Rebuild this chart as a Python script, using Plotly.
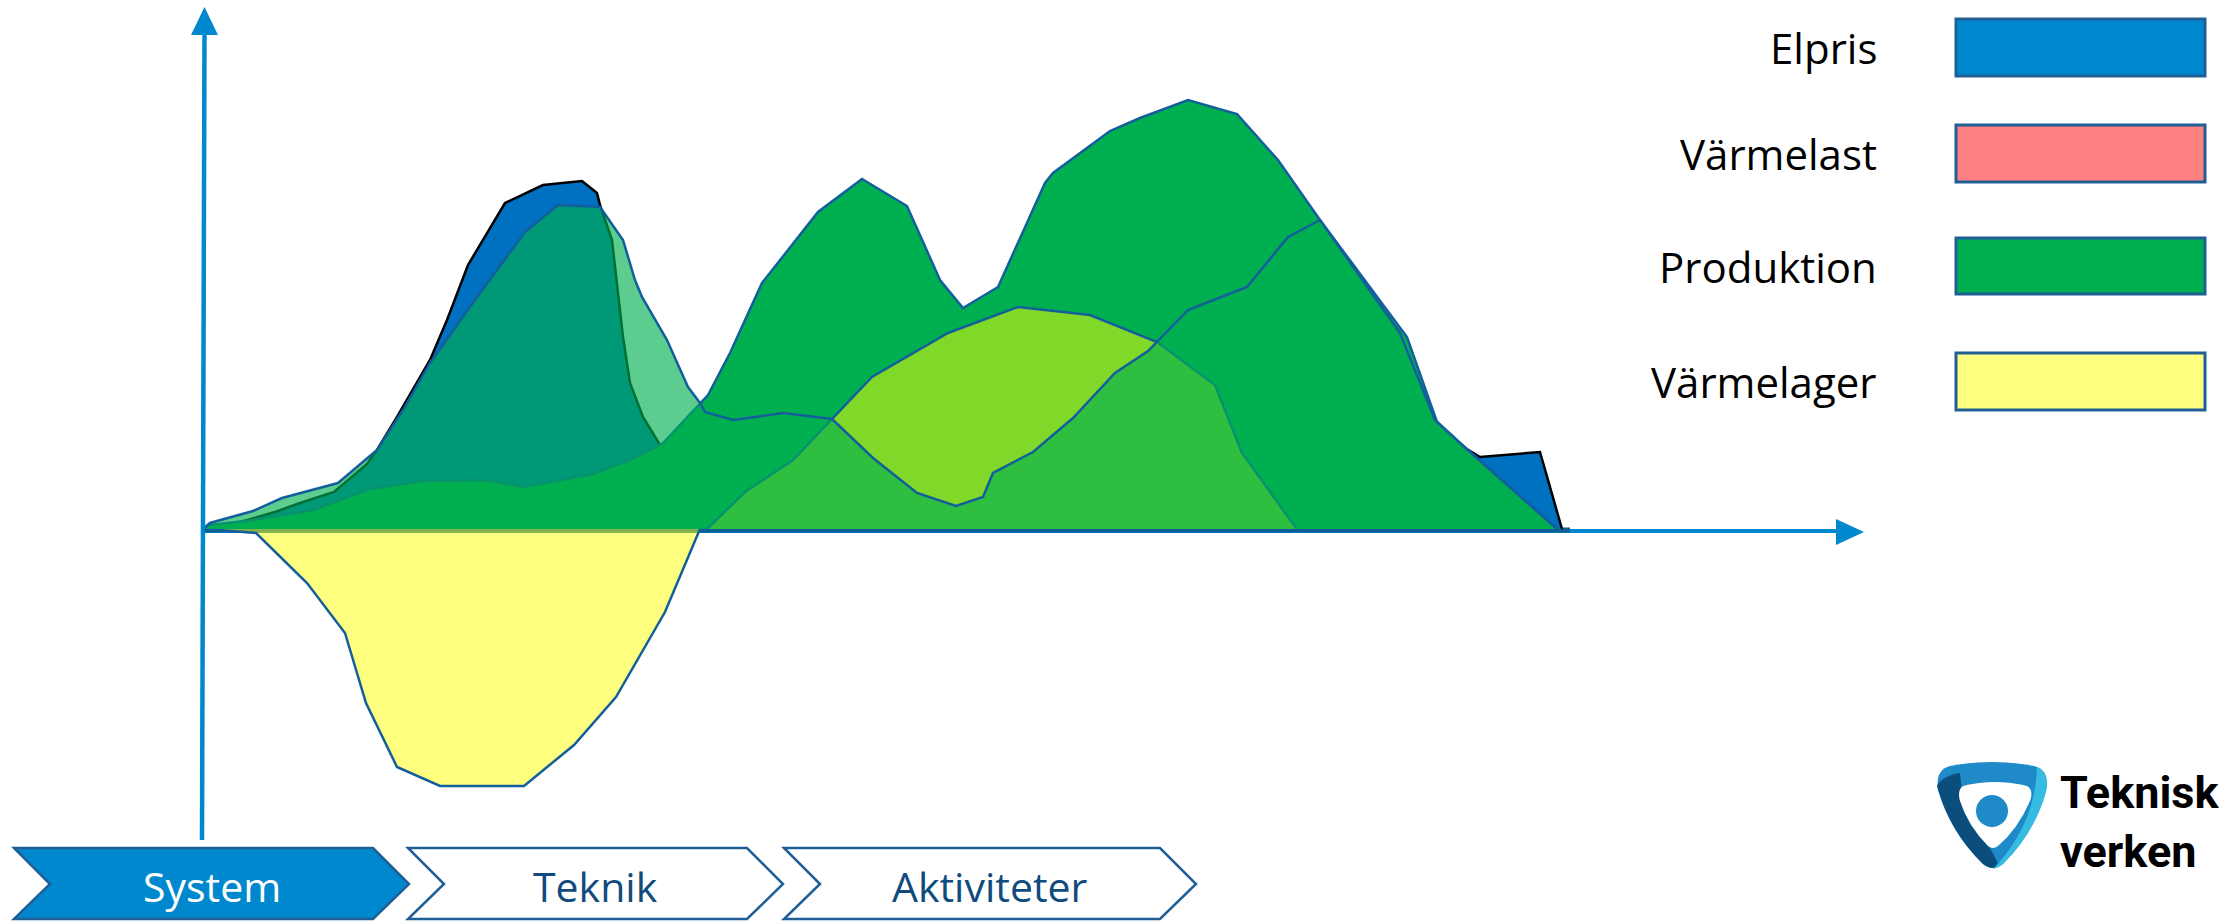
import plotly.graph_objects as go

W, H = 2226, 921

# ---------------- data (time index t, value v) ----------------
elpris_t = [0, 3.7, 7.2, 9.7, 13.1, 16.4, 17.4, 19.4, 22.7, 24.4, 26.5, 30.2, 34.0, 37.9, 39.4, 39.7,
            40.9, 41.4, 42.0, 42.7, 44.0, 45.7, 49.7, 119.7, 124.2, 125.7, 127.7, 133.7, 135.9]
elpris_v = [0, 0.7, 1.7, 2.6, 3.7, 6.5, 7.9, 11.2, 16.9, 20.9, 26.4, 32.6, 34.4, 34.8, 33.6, 32.4,
            28.9, 24.6, 19.2, 14.6, 11.2, 8.4, 4.9, 4.9, 8.9, 8.4, 7.2, 7.7, 0]

produktion_bas_t = [0, 0.7, 5.0, 11.0, 16.7, 22.0, 28.4, 32.0, 39.0, 42.7, 46.0, 50.5, 52.7, 55.9, 61.5,
                    65.9, 70.4, 73.7, 76.0, 79.5, 84.2, 85.0, 90.7, 93.7, 98.5, 103.4, 107.5, 111.7,
                    120.4, 123.4, 125.7, 135.4]
produktion_bas_v = [0, 0.4, 0.9, 1.9, 4.0, 4.8, 4.9, 4.2, 5.5, 6.9, 8.6, 13.4, 17.6, 24.6, 31.7,
                    35.0, 32.3, 24.9, 22.1, 24.2, 34.6, 35.6, 39.8, 41.1, 42.9, 41.5, 36.9, 30.9,
                    19.2, 10.7, 8.6, 0]

produktion_topp_t = [0, 0.7, 5.0, 7.9, 13.5, 17.4, 20.0, 22.7, 27.4, 32.2, 35.5, 39.7, 42.0, 43.2, 43.9,
                     46.4, 48.5, 49.7, 50.2, 53.0, 58.0, 62.9, 67.0, 71.4, 75.3, 78.0, 79.0, 83.0,
                     87.0, 91.2, 94.5, 95.4, 98.5, 104.4, 108.5, 111.7, 119.7, 123.2, 125.7, 135.4]
produktion_topp_v = [0, 0.6, 1.8, 3.1, 4.6, 7.9, 11.9, 16.6, 23.2, 29.7, 32.4, 32.2, 28.9, 24.9, 23.2,
                     18.9, 14.2, 12.6, 11.7, 10.9, 11.6, 11.0, 7.1, 3.6, 2.3, 3.2, 5.6, 7.7,
                     11.1, 15.6, 17.8, 18.7, 21.9, 24.2, 29.2, 30.9, 19.6, 10.9, 8.6, 0]

varmelager_t = [0.3, 5.3, 10.4, 14.2, 16.3, 19.4, 23.7, 32.1, 37.1, 41.3, 46.2, 49.7, 50.4, 54.2,
                59.0, 62.9, 66.9, 74.5, 81.5, 88.7, 95.4, 101.2, 103.9, 108.0, 109.4]
varmelager_v = [0, -0.4, -5.4, -10.4, -17.4, -23.8, -25.7, -25.7, -21.6, -16.8, -8.3, 0, 0, 3.7,
                6.9, 11.0, 15.2, 19.6, 22.2, 21.4, 18.7, 14.4, 7.6, 1.9, 0]

legend_labels = ["Elpris", "Värmelast", "Produktion", "Värmelager"]
legend_colors = ["#0088CE", "#FF8080", "#00B050", "#FFFF80"]
steps = ["System", "Teknik", "Aktiviteter"]
logo_lines = ["Teknisk", "verken"]

# ---------------- styles ----------------
OUTLINE = "#135F9C"
AXIS_BLUE = "#0088CE"
BORDER = "#1F5F96"


def px(X):
    return X / W


def py(Y):
    return 1 - Y / H


def path(points):
    return "M " + " L ".join(f"{px(x):.5f},{py(y):.5f}" for x, y in points) + " Z"


def cpath(cmds):
    """cmds: list of (letter, [x1,y1, x2,y2 ...]) in pixels -> paper path"""
    out = []
    for letter, nums in cmds:
        pts = []
        for i in range(0, len(nums), 2):
            pts.append(f"{px(nums[i]):.5f},{py(nums[i + 1]):.5f}")
        out.append(letter + " " + " ".join(pts))
    return " ".join(out) + " Z"


fig = go.Figure()

# dark base band (bottom edges of the areas)
band_end = max(elpris_t) + 0.8
fig.add_trace(go.Scatter(x=[0, band_end], y=[-0.1, -0.1], mode="lines",
                         line=dict(color="#0B5E96", width=5), hoverinfo="skip"))

fig.add_trace(go.Scatter(x=elpris_t, y=elpris_v, mode="lines", fill="tozeroy",
                         fillcolor="#0070C0", line=dict(color="black", width=2.5), name="Elpris"))
fig.add_trace(go.Scatter(x=produktion_bas_t, y=produktion_bas_v, mode="lines", fill="tozeroy",
                         fillcolor="#00B050", line=dict(color=OUTLINE, width=2.5), name="Produktion"))
fig.add_trace(go.Scatter(x=varmelager_t, y=varmelager_v, mode="lines", fill="tozeroy",
                         fillcolor="rgba(255,255,0,0.5)", line=dict(color=OUTLINE, width=2.5),
                         name="Värmelager"))
fig.add_trace(go.Scatter(x=produktion_topp_t, y=produktion_topp_v, mode="lines", fill="tozeroy",
                         fillcolor="rgba(0,176,80,0.64)", line=dict(color=OUTLINE, width=2.5),
                         name="Produktion 2"))

shapes = []
ann = []

# axes with arrows
shapes.append(dict(type="line", xref="paper", yref="paper", x0=px(203), y0=py(531), x1=px(1840), y1=py(531),
                   line=dict(color=AXIS_BLUE, width=4), layer="below"))
shapes.append(dict(type="path", xref="paper", yref="paper",
                   path=path([(1836, 519), (1864, 532), (1836, 545)]),
                   fillcolor=AXIS_BLUE, line=dict(width=0), layer="below"))
shapes.append(dict(type="line", xref="paper", yref="paper", x0=px(204.5), y0=py(32), x1=px(202), y1=py(840),
                   line=dict(color=AXIS_BLUE, width=4.5), layer="above"))
shapes.append(dict(type="path", xref="paper", yref="paper",
                   path=path([(191, 35), (204.5, 7), (218, 35)]),
                   fillcolor=AXIS_BLUE, line=dict(width=0), layer="above"))

# legend boxes and labels
box_y = [(19, 76), (125, 182), (238, 294), (353, 410)]
for lab, col, (y0, y1) in zip(legend_labels, legend_colors, box_y):
    shapes.append(dict(type="rect", xref="paper", yref="paper", x0=px(1956), x1=px(2205),
                       y0=py(y1), y1=py(y0), fillcolor=col, line=dict(color=BORDER, width=3)))
    ann.append(dict(text=lab, xref="paper", yref="paper", x=px(1879), y=py((y0 + y1) / 2),
                    xanchor="right", yanchor="middle", showarrow=False,
                    font=dict(family="Open Sans", size=42, color="black")))

# chevrons
chev = [(14, 373), (408, 747), (784, 1160)]
for i, (name, (x0, x1)) in enumerate(zip(steps, chev)):
    pts = [(x0, 848), (x1, 848), (x1 + 36, 884), (x1, 919), (x0, 919), (x0 + 36, 884)]
    shapes.append(dict(type="path", xref="paper", yref="paper", path=path(pts),
                       fillcolor=AXIS_BLUE if i == 0 else "white", line=dict(color=BORDER, width=2.5)))
    ann.append(dict(text=name, xref="paper", yref="paper", x=px((x0 + 36 + x1) / 2), y=py(886),
                    xanchor="center", yanchor="middle", showarrow=False,
                    font=dict(family="Open Sans", size=41, color="white" if i == 0 else "#114B7E")))

# logo (Tekniska verken)
shapes.append(dict(type="path", xref="paper", yref="paper",
                   path=cpath([("M", [1950, 766]), ("Q", [1992, 758, 2034, 766]), ("Q", [2050, 770, 2046, 790]),
                               ("Q", [2035, 832, 2003, 864]), ("Q", [1993, 872, 1983, 864]),
                               ("Q", [1950, 832, 1938, 790]), ("Q", [1935, 770, 1950, 766])]),
                   fillcolor="#1E8AC8", line=dict(width=0)))
shapes.append(dict(type="path", xref="paper", yref="paper",
                   path=cpath([("M", [1937, 786]), ("Q", [1942, 776, 1960, 773]), ("L", [1962, 792]),
                               ("Q", [1970, 820, 1986, 842]), ("Q", [1993, 852, 1999, 866]),
                               ("Q", [1992, 871, 1983, 864]), ("Q", [1950, 832, 1937, 786])]),
                   fillcolor="#0B4D7C", line=dict(width=0)))
shapes.append(dict(type="path", xref="paper", yref="paper",
                   path=cpath([("M", [2037, 767]), ("Q", [2050, 772, 2046, 792]), ("Q", [2035, 832, 2003, 864]),
                               ("Q", [1998, 868, 1993, 869]), ("Q", [2012, 850, 2024, 824]),
                               ("Q", [2036, 798, 2037, 767])]),
                   fillcolor="#36BCE3", line=dict(width=0)))
shapes.append(dict(type="path", xref="paper", yref="paper",
                   path=cpath([("M", [1963, 786]), ("Q", [1995, 778, 2027, 786]), ("Q", [2034, 790, 2030, 801]),
                               ("Q", [2018, 829, 1998, 846]), ("Q", [1993, 850, 1988, 846]),
                               ("Q", [1968, 826, 1960, 801]), ("Q", [1957, 790, 1963, 786])]),
                   fillcolor="white", line=dict(width=0)))
shapes.append(dict(type="circle", xref="paper", yref="paper", x0=px(1976), x1=px(2008),
                   y0=py(827), y1=py(795), fillcolor="#1E8AC8", line=dict(width=0)))
ann.append(dict(text="<br>".join(f"<b>{t}</b>" for t in logo_lines), xref="paper", yref="paper",
                x=px(2058), y=py(822), xanchor="left", yanchor="middle", align="left", showarrow=False,
                font=dict(family="Roboto", size=45, color="black")))

fig.update_layout(
    width=W, height=H, autosize=False,
    margin=dict(l=0, r=0, t=0, b=0),
    paper_bgcolor="white", plot_bgcolor="white",
    showlegend=False,
    xaxis=dict(range=[-20.3, 202.3], visible=False, fixedrange=True),
    yaxis=dict(range=[-39.2, 52.9], visible=False, fixedrange=True),
    shapes=shapes, annotations=ann,
)

fig.write_html("out.html")
